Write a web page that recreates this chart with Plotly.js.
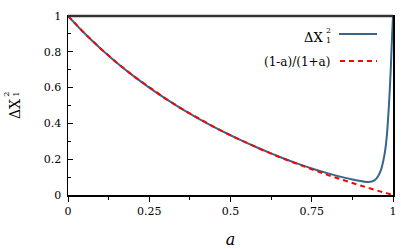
<!DOCTYPE html>
<html><head><meta charset="utf-8">
<script src="https://cdn.plot.ly/plotly-3.0.1.min.js"></script>
<style>html,body{margin:0;padding:0;background:#fff}</style>
</head><body><div id="chart" style="width:415px;height:249px"></div>
<script>
// red dashed reference curve (1-a)/(1+a)
const aRef = [0,0.05,0.1,0.15,0.2,0.25,0.3,0.35,0.4,0.45,0.5,0.55,0.6,0.65,0.7,0.75,0.8,0.85,0.9,0.95,1];
const yRef = [1,0.9048,0.8182,0.7391,0.6667,0.6,0.5385,0.4815,0.4286,0.3793,0.3333,0.2903,0.25,0.2121,0.1765,0.1429,0.1111,0.0811,0.0526,0.0256,0];
// solid curve ΔX1^2
const aVar = [0,0.05,0.1,0.15,0.2,0.25,0.3,0.35,0.4,0.45,0.5,0.55,0.6,0.65,0.7,0.75,0.8,0.85,0.875,0.9,0.92,0.935,0.945,0.955,0.963,0.97,0.976,0.981,0.985,0.989,0.993,0.997,1];
const yVar = [1,0.9048,0.8182,0.7391,0.6667,0.6,0.5385,0.4815,0.4286,0.3795,0.3338,0.291,0.2512,0.2138,0.1795,0.148,0.121,0.097,0.087,0.078,0.073,0.075,0.085,0.108,0.14,0.19,0.25,0.33,0.43,0.55,0.7,0.88,1];
const xTicks = [0,0.25,0.5,0.75,1];
const xTickText = ['0','0.25','0.5','0.75','1'];
const yTicks = [0,0.2,0.4,0.6,0.8,1];
const yTickText = ['0','0.2','0.4','0.6','0.8','1'];

const blue = '#35678c';
const serif = 'DejaVu Serif';
const traces = [
  {x:aVar, y:yVar, type:'scatter', mode:'lines', name:'ΔX1^2', line:{color:blue, width:2, shape:'spline', smoothing:0.6}, showlegend:false},
  {x:aRef, y:yRef, type:'scatter', mode:'lines', name:'(1-a)/(1+a)', line:{color:'#ff0000', width:2, dash:'5px,4px'}, showlegend:false}
];
const P = (px)=> (px-68)/325;
const Q = (py)=> (195-py)/179;
const layout = {
  width:415, height:249,
  margin:{l:68, r:22, t:16, b:54},
  paper_bgcolor:'#fff', plot_bgcolor:'#fff',
  font:{family:serif, color:'#000', size:11},
  xaxis:{range:[0,1], tickvals:xTicks, ticktext:xTickText, ticks:'outside', ticklen:5, tickwidth:1, tickcolor:'#000',
    minor:{dtick:0.125, ticks:'outside', ticklen:3, tickcolor:'#000'},
    showline:true, linecolor:'#000', linewidth:1.5, mirror:true, showgrid:false, zeroline:false,
    tickfont:{family:serif, size:11}, automargin:false,
    title:{text:'<i>a</i>', font:{family:serif, size:16}, standoff:17}},
  yaxis:{range:[0,1], tickvals:yTicks, ticktext:yTickText, ticks:'inside', ticklen:5, tickwidth:1, tickcolor:'#000',
    minor:{dtick:0.1, ticks:'inside', ticklen:3, tickcolor:'#000'},
    showline:true, linecolor:'#000', linewidth:1.5, mirror:true, showgrid:false, zeroline:false,
    tickfont:{family:serif, size:11}, automargin:false, ticklabelstandoff:3},
  shapes:[
    {type:'line', xref:'paper', yref:'paper', x0:0, x1:1, y0:1, y1:1, line:{color:'#333', width:2.5}},
    {type:'line', xref:'paper', yref:'paper', x0:P(339), x1:P(377), y0:Q(34), y1:Q(34), line:{color:blue, width:2}},
    {type:'line', xref:'paper', yref:'paper', x0:P(340), x1:P(377), y0:Q(61), y1:Q(61), line:{color:'#ff0000', width:2, dash:'5px,4px'}}
  ],
  annotations:[
    {xref:'paper', yref:'paper', x:P(324.5), y:Q(37.5), xanchor:'right', yanchor:'middle', text:'ΔX', showarrow:false, font:{family:serif, size:13}},
    {xref:'paper', yref:'paper', x:P(324), y:Q(35.5), xanchor:'left', yanchor:'middle', text:'2<br>1', showarrow:false, font:{family:serif, size:8}, align:'left'},
    {xref:'paper', yref:'paper', x:P(332), y:Q(62), xanchor:'right', yanchor:'middle', text:'(1-a)/(1+a)', showarrow:false, font:{family:serif, size:12}},
    {xref:'paper', yref:'paper', x:P(15), y:Q(109), xanchor:'center', yanchor:'middle', text:'ΔX', textangle:-90, showarrow:false, font:{family:serif, size:14}},
    {xref:'paper', yref:'paper', x:P(11.3), y:Q(94.5), xanchor:'center', yanchor:'middle', text:'2<br>1', textangle:-90, showarrow:false, font:{family:serif, size:8}}
  ]
};
Plotly.newPlot('chart', traces, layout, {displayModeBar:false, staticPlot:true});
</script></body></html>
